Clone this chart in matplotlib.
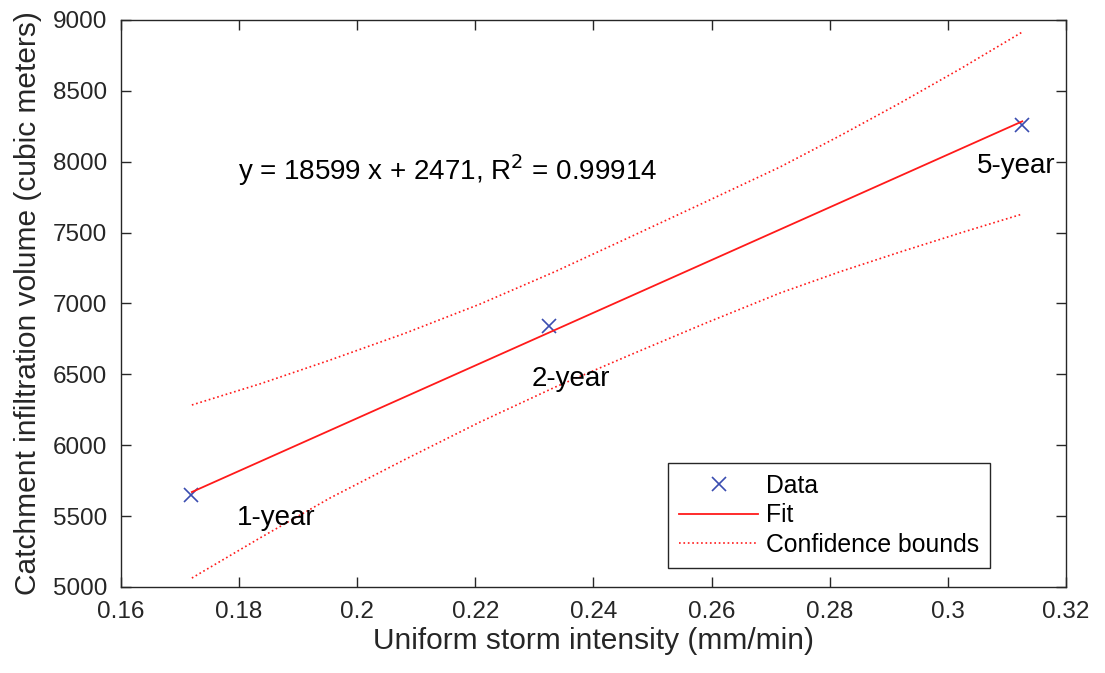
import matplotlib
matplotlib.use("Agg")
import matplotlib.pyplot as plt

plt.rcParams['font.family'] = ['Liberation Sans', 'DejaVu Sans']

# storm intensity (mm/min) and infiltration volume (m^3) of the three design storms
intensity = [0.1719, 0.2325, 0.3126]
volume = [5649, 6841, 8259]
storm_labels = ['1-year', '2-year', '5-year']

# fitted line, end points
fit_x = [0.1720, 0.3126]
fit_y = [5670, 8285]

# confidence bounds
bound_x = [0.1720, 0.1837, 0.1954, 0.2081, 0.2208, 0.2335, 0.2462,
           0.2589, 0.2716, 0.2818, 0.2919, 0.3023, 0.3126]
upper_y = [6284, 6435, 6601, 6790, 6996, 7225, 7469,
           7715, 7963, 8185, 8414, 8660, 8915]
lower_y = [5063, 5350, 5628, 5900, 6164, 6410, 6637,
           6860, 7074, 7225, 7363, 7500, 7631]

eq_text = 'y = 18599 x + 2471, R$^2$ = 0.99914'

fig = plt.figure(figsize=(11.05, 6.73), dpi=100)
ax = fig.add_axes([0.1095, 0.1278, 0.8552, 0.8425])

red = '#ff1a1a'
ax.plot(intensity, volume, 'x', color='#3a4db0', markersize=10, markeredgewidth=1.2, label='Data')
ax.plot(fit_x, fit_y, '-', color=red, lw=1.3, label='Fit')
ax.plot(bound_x, upper_y, ':', color=red, lw=1.2, label='Confidence bounds')
ax.plot(bound_x, lower_y, ':', color=red, lw=1.2)

# storm labels under each point
lab_pos = [(0.1796, 5487), (0.2296, 6467), (0.3049, 7970)]
for (lx, ly), s in zip(lab_pos, storm_labels):
    ax.text(lx, ly, s, fontsize=20, va='center', ha='left')

ax.text(0.1798, 7942, eq_text, fontsize=20, va='center', ha='left')

ax.set_xlim(0.16, 0.32)
ax.set_ylim(5000, 9000)
ax.set_xticks([0.16, 0.18, 0.2, 0.22, 0.24, 0.26, 0.28, 0.3, 0.32])
ax.set_xticklabels(['0.16', '0.18', '0.2', '0.22', '0.24', '0.26', '0.28', '0.3', '0.32'])
ax.set_yticks(range(5000, 9001, 500))

ax.set_xlabel('Uniform storm intensity (mm/min)', fontsize=21.5, color='#262626', labelpad=3)
ax.set_ylabel('Catchment infiltration volume (cubic meters)', fontsize=21.5, color='#262626', labelpad=8)

for sp in ax.spines.values():
    sp.set_color('#262626')
    sp.set_linewidth(1.0)
ax.tick_params(direction='in', length=7, width=1.0, top=True, right=True,
               labelsize=17.5, colors='#262626', pad=10)

leg = ax.legend(loc='lower right', bbox_to_anchor=(0.9196, 0.0335), fontsize=17.8,
                frameon=True, fancybox=False, edgecolor='#262626', framealpha=1,
                handlelength=3.2, borderpad=0.45, labelspacing=0.22, handletextpad=0.3,
                borderaxespad=0)
leg.get_frame().set_linewidth(1.0)

fig.savefig('out.png', dpi=100)
